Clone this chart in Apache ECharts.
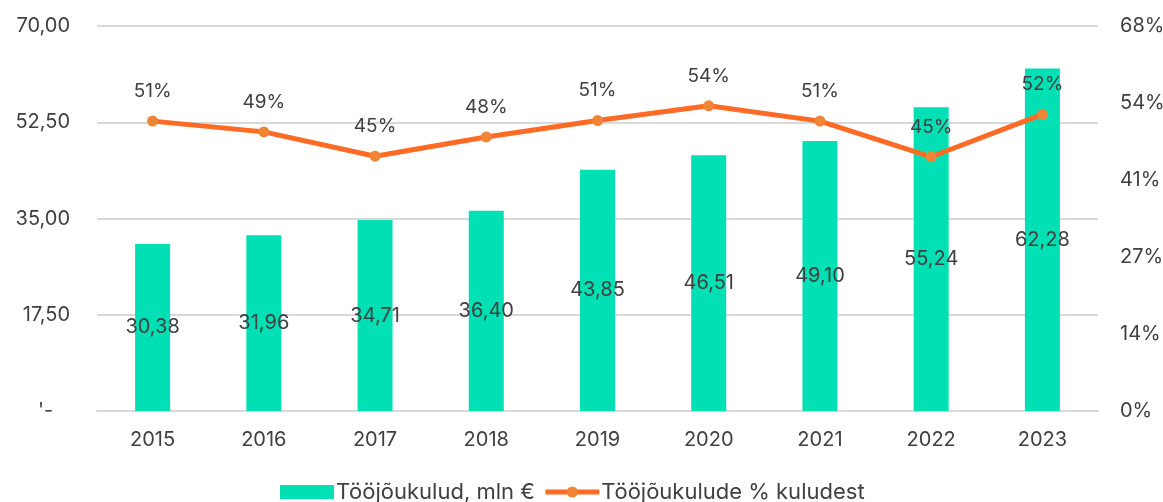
<!DOCTYPE html>
<html>
<head>
<meta charset="utf-8">
<script src="https://cdn.jsdelivr.net/npm/echarts@6/dist/echarts.min.js"></script>
<style>html,body{margin:0;padding:0;background:#fff}#c{width:1163px;height:502px}</style>
</head>
<body>
<div id="c"></div>
<script>
const categories = ['2015','2016','2017','2018','2019','2020','2021','2022','2023'];
const laborCosts = [30.38, 31.96, 34.71, 36.40, 43.85, 46.51, 49.10, 55.24, 62.28];
const laborShare = [51.2, 49.3, 45.0, 48.4, 51.3, 53.9, 51.2, 44.9, 52.4];
const leftTicks = ['\'-   ', '17,50', '35,00', '52,50', '70,00'];
const barName = 'Tööjõukulud, mln €';
const lineName = 'Tööjõukulude % kuludest';

const FONT = 'Inter';
const TXT = '#404040';
const chart = echarts.init(document.getElementById('c'));
chart.setOption({
  animation: false,
  textStyle: { fontFamily: FONT },
  grid: { left: 97, right: 65, top: 26, bottom: 91, containLabel: false, outerBoundsMode: 'none' },
  legend: {
    top: 476, left: 275, itemGap: 8,
    itemWidth: 54, itemHeight: 14,
    textStyle: { fontFamily: FONT, fontSize: 22, color: TXT, padding: [0,0,0,-3] },
    data: [
      { name: barName, icon: 'rect' },
      { name: lineName, lineStyle: { width: 5, color: '#FF6A25' }, itemStyle: { color: '#F08535' } }
    ]
  },
  xAxis: {
    type: 'category', data: categories,
    axisLine: { lineStyle: { color: '#d9d9d9', width: 2 } },
    axisTick: { show: false },
    axisLabel: { color: TXT, fontSize: 20, margin: 19, fontFamily: FONT }
  },
  yAxis: [
    {
      type: 'value', min: 0, max: 70, interval: 17.5,
      axisLine: { show: false }, axisTick: { show: false },
      splitLine: { lineStyle: { color: '#d9d9d9', width: 2 } },
      axisLabel: {
        color: TXT, fontSize: 20, margin: 27, fontFamily: FONT,
        formatter: (v) => leftTicks[Math.round(v / 17.5)]
      }
    },
    {
      type: 'value', min: 0, max: 68, interval: 13.6,
      axisLine: { show: false }, axisTick: { show: false },
      splitLine: { show: false },
      axisLabel: {
        color: TXT, fontSize: 20, margin: 22, fontFamily: FONT,
        formatter: (v) => Math.round(v) + '%'
      }
    }
  ],
  series: [
    {
      name: barName, type: 'bar', data: laborCosts, barWidth: 35,
      itemStyle: { color: '#00E0B4' },
      label: {
        show: true, position: 'inside', color: TXT, fontSize: 20, fontFamily: FONT,
        formatter: (p) => p.value.toFixed(2).replace('.', ',')
      }
    },
    {
      name: lineName, type: 'line', yAxisIndex: 1, data: laborShare,
      lineStyle: { color: '#FF6A25', width: 5 },
      itemStyle: { color: '#F08535' },
      symbol: 'circle', symbolSize: 11,
      label: {
        show: true, position: 'top', distance: 15, color: TXT, fontSize: 19, fontFamily: FONT,
        formatter: (p) => Math.round(p.value) + '%'
      },
      z: 5
    }
  ]
});
</script>
</body>
</html>
